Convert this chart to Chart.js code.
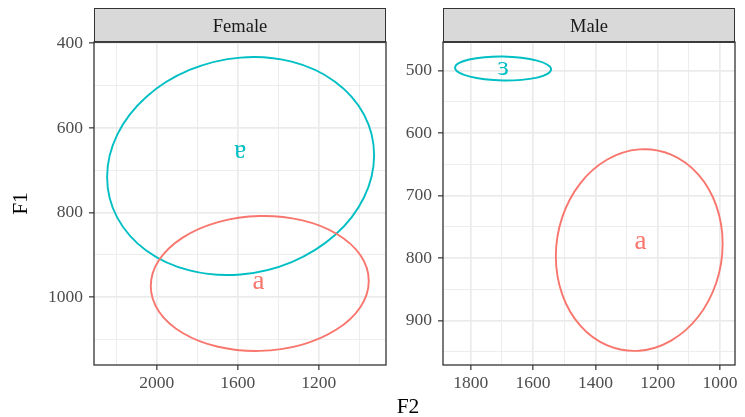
<!DOCTYPE html>
<html><head><meta charset="utf-8">
<script src="https://cdn.jsdelivr.net/npm/chart.js@4.4.1/dist/chart.umd.min.js"></script>
<style>
html,body{margin:0;padding:0;background:#fff;width:745px;height:417px;overflow:hidden;position:relative}
#c1{position:absolute;left:0;top:0}
#c2{position:absolute;left:390px;top:0}
#f2{position:absolute;left:358px;top:395px;width:100px;text-align:center;font-family:'Liberation Serif',serif;font-size:21.5px;line-height:22px;color:#000}
</style></head>
<body>
<canvas id="c1" width="390" height="417"></canvas>
<canvas id="c2" width="355" height="417"></canvas>
<div id="f2">F2</div>
<script>
// ---- data ----
const panels = ['Female', 'Male'];
const femaleF2Range = [868, 2310];
const femaleF1Range = [397, 1160];
const maleF2Range = [952, 1889];
const maleF1Range = [454, 971];

const femaleTickF2 = [2000, 1600, 1200];
const femaleMinorF2 = [2200, 1800, 1400, 1000];
const femaleTickF1 = [400, 600, 800, 1000];
const femaleMinorF1 = [500, 700, 900, 1100];
const maleTickF2 = [1800, 1600, 1400, 1200, 1000];
const maleMinorF2 = [1700, 1500, 1300, 1100];
const maleTickF1 = [500, 600, 700, 800, 900];
const maleMinorF1 = [550, 650, 750, 850, 950];

const femaleVowels = ['a', 'ɐ'];
const femaleVowelF2 = [1498, 1588];
const femaleVowelF1 = [966, 657];
const maleVowels = ['a', 'ɜ'];
const maleVowelF2 = [1255, 1696];
const maleVowelF1 = [776, 497];

const femaleAF2 = [953.1, 994.1, 1110.8, 1285.4, 1491.4, 1697.4, 1872.0, 1988.7, 2029.7, 1988.7, 1872.0, 1697.4, 1491.4, 1285.4, 1110.8, 994.1];
const femaleAF1 = [961.3, 1022.8, 1075.7, 1112.3, 1126.7, 1116.9, 1084.3, 1034.0, 973.5, 912.1, 859.1, 822.5, 808.1, 817.9, 850.5, 900.8];
const femaleTurnedAF2 = [926.7, 976.9, 1119.8, 1333.7, 1586, 1838.3, 2052.2, 2195.1, 2245.3, 2195.1, 2052.2, 1838.3, 1586, 1333.7, 1119.8, 976.9];
const femaleTurnedAF1 = [664.3, 764.3, 853.1, 916.9, 946.2, 936.5, 889.3, 811.8, 715.7, 615.7, 526.9, 463.1, 433.8, 443.5, 490.7, 568.2];
const maleAF2 = [991.7, 1012.1, 1070.1, 1156.9, 1259.3, 1361.7, 1448.5, 1506.5, 1526.9, 1506.5, 1448.5, 1361.7, 1259.3, 1156.9, 1070.1, 1012.1];
const maleAF1 = [776.9, 839.3, 893.8, 931.9, 948.1, 939.7, 908.0, 858.0, 797.1, 734.7, 680.2, 642.1, 625.9, 634.3, 666.0, 716.0];
const maleEpsF2 = [1542.0, 1553.7, 1587.2, 1637.2, 1696.2, 1755.2, 1805.2, 1838.7, 1850.4, 1838.7, 1805.2, 1755.2, 1696.2, 1637.2, 1587.2, 1553.7];
const maleEpsF1 = [497.8, 505.1, 511.0, 514.7, 515.7, 513.7, 509.1, 502.6, 495.2, 487.9, 482.0, 478.3, 477.3, 479.3, 483.9, 490.4];

// ---- styling ----
const RED = '#F8766D', CYAN = '#00BFC4';
const SERIF = "'Liberation Serif', 'DejaVu Serif', serif";

function loop(f2, f1) {
  const pts = f2.map((x, i) => ({x, y: f1[i]}));
  return pts.concat(pts.slice(0, 3));
}
function ellipseDataset(f2, f1, color) {
  const n = f2.length;
  return {
    data: loop(f2, f1), borderColor: color, borderWidth: 1.9,
    pointRadius: 0, tension: 0.34, fill: false,
    segment: { borderColor: c => (c.p0DataIndex === 0 || c.p0DataIndex === n + 1) ? 'rgba(0,0,0,0)' : color }
  };
}
function labelDataset(f2, f1, vowels, colors) {
  return { data: f2.map((x, i) => ({x, y: f1[i]})), showLine: false, pointRadius: 0, vowels, vowelColors: colors };
}

const decoPlugin = {
  id: 'deco',
  beforeDraw(chart, args, opts) {
    const {ctx, chartArea: a} = chart;
    ctx.save();
    ctx.fillStyle = '#D9D9D9';
    ctx.fillRect(a.left, 8.5, a.right - a.left, a.top - 8.5);
    ctx.strokeStyle = '#333333'; ctx.lineWidth = 1;
    ctx.strokeRect(a.left + 0.5, 8.5, a.right - a.left - 1, a.top - 8.5);
    ctx.fillStyle = '#1A1A1A';
    ctx.font = '18.5px ' + SERIF;
    ctx.textAlign = 'center'; ctx.textBaseline = 'alphabetic';
    ctx.fillText(opts.title, (a.left + a.right) / 2, 31.5);
    ctx.restore();
  },
  afterDatasetsDraw(chart) {
    const {ctx} = chart;
    chart.data.datasets.forEach((ds, i) => {
      if (!ds.vowels) return;
      const meta = chart.getDatasetMeta(i);
      ctx.save();
      ctx.font = '27px ' + SERIF;
      ctx.textAlign = 'center'; ctx.textBaseline = 'alphabetic';
      meta.data.forEach((pt, j) => {
        ctx.fillStyle = ds.vowelColors[j];
        ctx.fillText(ds.vowels[j], pt.x, pt.y + 6);
      });
      ctx.restore();
    });
  },
  afterDraw(chart) {
    const {ctx, chartArea: a} = chart;
    ctx.save();
    ctx.strokeStyle = '#333333'; ctx.lineWidth = 1.3;
    ctx.strokeRect(a.left, a.top, a.right - a.left, a.bottom - a.top);
    ctx.beginPath(); ctx.lineWidth = 1.5;
    ctx.moveTo(a.left, a.top); ctx.lineTo(a.right, a.top); ctx.stroke();
    ctx.restore();
  }
};

function axis(range, major, minor, extra) {
  const all = major.concat(minor).sort((p, q) => p - q);
  const isMajor = v => major.includes(v);
  return Object.assign({
    type: 'linear', reverse: true, min: range[0], max: range[1],
    afterBuildTicks: s => { s.ticks = all.map(v => ({value: v})); },
    ticks: {
      autoSkip: false, maxRotation: 0, color: '#4D4D4D',
      font: {family: SERIF, size: 17.5},
      callback: v => isMajor(v) ? String(v) : ''
    },
    grid: {
      color: '#EBEBEB',
      lineWidth: c => isMajor(c.tick && c.tick.value) ? 1.7 : 0.9,
      tickColor: c => isMajor(c.tick && c.tick.value) ? '#333333' : 'rgba(0,0,0,0)',
      tickWidth: 1.2, tickLength: 5, drawTicks: true
    },
    border: {display: false}
  }, extra);
}

function makeChart(id, title, datasets, xr, xmaj, xmin, yr, ymaj, ymin, yWidth, padRight, yTitle) {
  const yExtra = {
    afterFit: s => { s.width = yWidth; },
    title: yTitle ? {display: true, text: yTitle, color: '#000', font: {family: SERIF, size: 21.5}, padding: {top: 8, bottom: 0}} : {display: false}
  };
  const y = axis(yr, ymaj, ymin, yExtra);
  y.ticks.padding = 6;
  const x = axis(xr, xmaj, xmin, { position: 'bottom', afterFit: s => { s.height = 52; } });
  x.ticks.padding = 3;
  return new Chart(document.getElementById(id), {
    type: 'line',
    data: {datasets},
    options: {
      responsive: false, animation: false, devicePixelRatio: 1,
      layout: {padding: {top: 42, left: 0, right: padRight, bottom: 0}},
      plugins: {legend: {display: false}, tooltip: {enabled: false}, deco: {title}},
      scales: {x, y}
    },
    plugins: [decoPlugin]
  });
}

makeChart('c1', panels[0], [
  ellipseDataset(femaleAF2, femaleAF1, RED),
  ellipseDataset(femaleTurnedAF2, femaleTurnedAF1, CYAN),
  labelDataset(femaleVowelF2, femaleVowelF1, femaleVowels, [RED, CYAN])
], femaleF2Range, femaleTickF2, femaleMinorF2, femaleF1Range, femaleTickF1, femaleMinorF1, 94, 4, 'F1');

makeChart('c2', panels[1], [
  ellipseDataset(maleAF2, maleAF1, RED),
  ellipseDataset(maleEpsF2, maleEpsF1, CYAN),
  labelDataset(maleVowelF2, maleVowelF1, maleVowels, [RED, CYAN])
], maleF2Range, maleTickF2, maleMinorF2, maleF1Range, maleTickF1, maleMinorF1, 53, 10, null);
</script>
</body></html>
